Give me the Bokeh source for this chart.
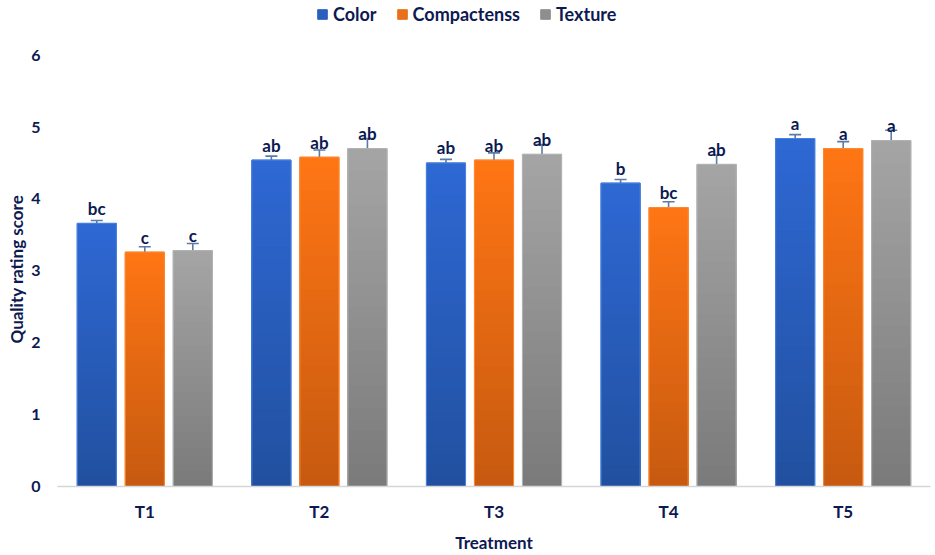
import numpy as np
from bokeh.plotting import figure
from bokeh.models import (ColumnDataSource, FactorRange, Whisker, TeeHead,
                          Legend, LegendItem, FixedTicker, Title)
from bokeh.transform import dodge
from bokeh.embed import file_html
from bokeh.resources import INLINE
from bokeh.core.properties import value

# ---------------- data ----------------
treatments = ["T1", "T2", "T3", "T4", "T5"]
series_names = ["Color", "Compactenss", "Texture"]
color_vals = [3.66, 4.54, 4.50, 4.22, 4.84]
compact_vals = [3.26, 4.58, 4.54, 3.88, 4.70]
texture_vals = [3.28, 4.70, 4.62, 4.48, 4.81]
color_err = [0.04, 0.055, 0.05, 0.05, 0.055]
compact_err = [0.075, 0.10, 0.10, 0.08, 0.097]
texture_err = [0.10, 0.14, 0.135, 0.13, 0.145]
color_letters = ["bc", "ab", "ab", "b", "a"]
compact_letters = ["c", "ab", "ab", "bc", "a"]
texture_letters = ["c", "ab", "ab", "ab", "a"]
y_ticks = [0, 1, 2, 3, 4, 5, 6]

# ---------------- style ----------------
NAVY = "#0d1a52"
FONT = "Lato"
# (top colour, bottom colour, legend colour, outline)
styles = [
    ("#2e68d4", "#21509f", "#2c5fbd", "#4a84e0"),
    ("#ff7514", "#c65a10", "#e8701a", "#ff8a30"),
    ("#a5a5a5", "#7a7a7a", "#8e8e8e", "#b4b4b4"),
]
offsets = [-0.275, 0.0, 0.275]
BAR_W = 0.224
N_SLICES = 30
Y_TOP = 6.76  # extra head-room above 6 holds the legend (no frame drawn)


def hex2rgb(h):
    h = h.lstrip("#")
    return np.array([int(h[i:i + 2], 16) for i in (0, 2, 4)], dtype=float)


def mix(c_bottom, c_top, t):
    a, b = hex2rgb(c_bottom), hex2rgb(c_top)
    c = a + (b - a) * t
    return "#%02x%02x%02x" % tuple(int(round(v)) for v in c)


p = figure(width=935, height=555, x_range=FactorRange(*treatments, range_padding=0),
           y_range=(0, Y_TOP), output_backend="svg", toolbar_location=None,
           min_border_left=57, min_border_right=5, min_border_top=0,
           min_border_bottom=66)
p.outline_line_color = None
p.xgrid.grid_line_color = None
p.ygrid.grid_line_color = None
p.background_fill_color = "white"

all_vals = [color_vals, compact_vals, texture_vals]
all_errs = [color_err, compact_err, texture_err]
all_letters = [color_letters, compact_letters, texture_letters]

legend_items = []
for k in range(3):
    vals, errs, lets = all_vals[k], all_errs[k], all_letters[k]
    top_c, bot_c, leg_c, out_c = styles[k]
    off = offsets[k]
    main = ColumnDataSource(dict(
        x=treatments, top=vals,
        upper=[v + e for v, e in zip(vals, errs)],
        lower=[v - e for v, e in zip(vals, errs)],
        lab=lets))
    # solid base bar (also used as the legend swatch)
    base = p.vbar(x=dodge("x", off, range=p.x_range), width=BAR_W, bottom=0,
                  top="top", fill_color=leg_c, line_color=leg_c, source=main)
    # gradient: overlapping slices, tallest (top colour) drawn first
    xs, tops, cols = [], [], []
    for t, v in zip(treatments, vals):
        for i in range(N_SLICES - 1, -1, -1):
            xs.append(t)
            tops.append(v * (i + 1) / N_SLICES)
            cols.append(mix(bot_c, top_c, (i + 0.5) / N_SLICES))
    src = ColumnDataSource(dict(x=xs, top=tops, color=cols))
    p.vbar(x=dodge("x", off, range=p.x_range), width=BAR_W, bottom=0,
           top="top", fill_color="color", line_color=None, source=src)
    p.vbar(x=dodge("x", off, range=p.x_range), width=BAR_W, bottom=0, top="top",
           fill_color=None, line_color=out_c, line_width=1, source=main)
    w = Whisker(base=dodge("x", off, range=p.x_range), upper="upper", lower="lower",
                source=main, line_color="#5b7ba6", line_width=1.6,
                upper_head=TeeHead(size=12, line_color="#5b7ba6", line_width=1.6),
                lower_head=TeeHead(size=12, line_color="#5b7ba6", line_width=1.6))
    p.add_layout(w)
    p.text(x=dodge("x", off, range=p.x_range), y="top", text="lab", source=main,
           text_align="center", text_baseline="alphabetic", y_offset=-15,
           text_font=value(FONT), text_font_style="bold", text_font_size="17px",
           text_color=NAVY)
    legend_items.append(LegendItem(label=series_names[k], renderers=[base]))

legend = Legend(items=legend_items, orientation="horizontal",
                location=(259, 461), glyph_width=12, glyph_height=12,
                label_standoff=5, spacing=19, padding=0, margin=0,
                border_line_color=None, background_fill_alpha=0,
                label_text_font=FONT, label_text_font_style="bold",
                label_text_font_size="18px", label_text_color=NAVY)
p.add_layout(legend, "center")

# y axis (tick labels) + its title, placed along the 0..6 span
p.yaxis.ticker = FixedTicker(ticks=y_ticks)
p.yaxis.axis_line_color = None
p.yaxis.major_tick_line_color = None
p.yaxis.major_tick_out = 0
p.yaxis.major_tick_in = 0
p.yaxis.minor_tick_line_color = None
p.yaxis.major_label_standoff = 17
p.yaxis.major_label_text_font = FONT
p.yaxis.major_label_text_font_style = "bold"
p.yaxis.major_label_text_font_size = "16px"
p.yaxis.major_label_text_color = NAVY

ytitle = Title(text="Quality rating score", align="left", offset=143,
               standoff=4, text_font=FONT, text_font_style="bold",
               text_font_size="17px", text_color=NAVY)
p.add_layout(ytitle, "left")

p.xaxis.axis_line_color = "#d6d6d6"
p.xaxis.axis_line_width = 1.5
p.xaxis.major_tick_line_color = None
p.xaxis.major_tick_out = 0
p.xaxis.major_tick_in = 0
p.xaxis.minor_tick_line_color = None
p.xaxis.major_label_standoff = 14
p.xaxis.major_label_text_font = FONT
p.xaxis.major_label_text_font_style = "bold"
p.xaxis.major_label_text_font_size = "17px"
p.xaxis.major_label_text_color = NAVY
p.xaxis.axis_label = "Treatment"
p.xaxis.axis_label_standoff = 7
p.xaxis.axis_label_text_font = FONT
p.xaxis.axis_label_text_font_style = "bold"
p.xaxis.axis_label_text_font_size = "17px"
p.xaxis.axis_label_text_color = NAVY

open("out.html", "w").write(file_html(p, INLINE))
